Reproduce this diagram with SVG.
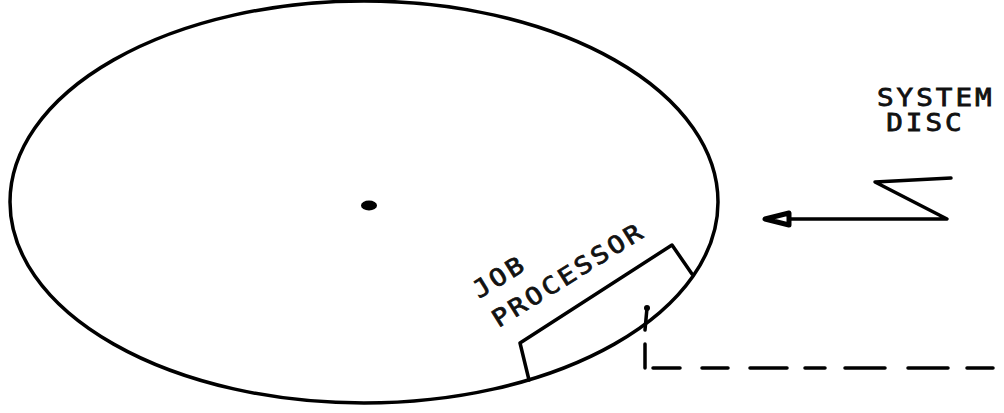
<svg xmlns="http://www.w3.org/2000/svg" width="1004" height="413" viewBox="0 0 1004 413">
<style>
.ln{fill:none;stroke:#000;stroke-width:3.5;stroke-linecap:round;stroke-linejoin:round}
.tx{font-family:"DejaVu Sans Mono","Liberation Mono",monospace;font-size:24px;letter-spacing:2.6px;fill:#111;stroke:#111;stroke-width:0.8}
</style>
<rect width="1004" height="413" fill="#fff"/>
<g id="disc">
<ellipse cx="364" cy="202" rx="354" ry="201" class="ln" stroke-width="3.8"/>
<ellipse cx="369" cy="205.5" rx="8" ry="5" fill="#000"/>
</g>
<g id="job-processor">
<polyline class="ln" points="529,380 520,343 672,245 692,274"/>
<g transform="translate(479,299) rotate(-32) scale(1.14,1)">
<text class="tx" x="0" y="0">JOB</text>
<text class="tx" x="1" y="35">PROCESSOR</text>
</g>
</g>
<g id="system-disc" transform="translate(877,0) scale(1.15,1)">
<text class="tx" x="0" y="106">SYSTEM</text>
<text class="tx" x="8" y="131">DISC</text>
</g>
<g id="connectors">
<polyline class="ln" points="951,178 875,182 947,219 790,219"/>
<polygon points="765,219 789,213 789,225" fill="#fff" stroke="#000" stroke-width="5" stroke-linejoin="round"/>
<circle cx="647" cy="308" r="3" fill="#000"/>
<path class="ln" d="M647,308 L645,330 M645,344 L645,368 M653,368 H680 M702,368 H728 M750,368 H787 M805,368 H825 M845,368 H885 M908,368 H948 M967,368 H993"/>
</g>
</svg>
